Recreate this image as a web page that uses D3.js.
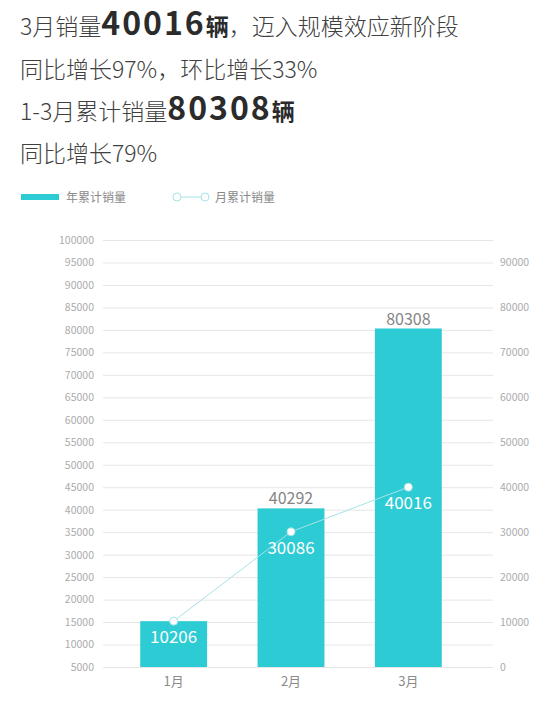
<!DOCTYPE html>
<html>
<head>
<meta charset="utf-8">
<script src="https://cdn.jsdelivr.net/npm/d3@7"></script>
<style>
  body { margin: 0; background: #fff; }
  text { font-family: "Noto Sans CJK SC", "Noto Sans", sans-serif; }
</style>
</head>
<body>
<div id="wrapper"></div>
<script>
// data
const months = ["1月", "2月", "3月"]
const yearCumulative = [15200, 40292, 80308]      // bar heights as drawn
const yearLabels = ["", "40292", "80308"]
const monthSales = [10206, 30086, 40016]
const leftTicks = d3.range(5000, 100001, 5000)
const rightTicks = d3.range(0, 90001, 10000)

const headerLines = [
  [["3月销量", false], ["40016", true], ["辆", true], ["，迈入规模效应新阶段", false]],
  [["同比增长97%，环比增长33%", false]],
  [["1-3月累计销量", false], ["80308", true], ["辆", true]],
  [["同比增长79%", false]],
]
const legendNames = ["年累计销量", "月累计销量"]

function drawChart() {
  const dimensions = {
    width: 554,
    height: 710,
    margins: { top: 240, right: 61, bottom: 43, left: 103 },
  }
  dimensions.boundedWidth =
    dimensions.width - dimensions.margins.left - dimensions.margins.right
  dimensions.boundedHeight =
    dimensions.height - dimensions.margins.top - dimensions.margins.bottom

  const barColor = "#2dcbd3"
  const lineColor = "#a6e3e6"

  const wrapper = d3
    .select("#wrapper")
    .append("svg")
    .attr("width", dimensions.width)
    .attr("height", dimensions.height)

  // header text
  const header = wrapper.append("g")
  const baselines = [35, 78, 120, 162]
  headerLines.forEach((parts, i) => {
    const t = header
      .append("text")
      .attr("x", 20)
      .attr("y", baselines[i])
    parts.forEach(([str, bold]) => {
      const isNum = /^\d+$/.test(str)
      t.append("tspan")
        .text(str)
        .attr("font-size", isNum ? 32 : 23)
        .attr("letter-spacing", isNum ? 2 : 0)
        .attr("font-weight", bold ? 700 : 300)
        .attr("fill", bold ? "#2b2b2b" : "#404040")
    })
  })

  // legend
  const legend = wrapper.append("g")
  legend
    .append("rect")
    .attr("x", 21)
    .attr("y", 194)
    .attr("width", 38)
    .attr("height", 6)
    .attr("fill", barColor)
  legend
    .append("text")
    .attr("x", 66)
    .attr("y", 202)
    .attr("font-size", 12)
    .attr("fill", "#8a8a8a")
    .text(legendNames[0])
  legend
    .append("line")
    .attr("x1", 177)
    .attr("x2", 205)
    .attr("y1", 197)
    .attr("y2", 197)
    .attr("stroke", lineColor)
  legend
    .selectAll("circle")
    .data([177, 205])
    .join("circle")
    .attr("cx", (d) => d)
    .attr("cy", 197)
    .attr("r", 4)
    .attr("fill", "#fff")
    .attr("stroke", lineColor)
  legend
    .append("text")
    .attr("x", 215)
    .attr("y", 202)
    .attr("font-size", 12)
    .attr("fill", "#8a8a8a")
    .text(legendNames[1])

  const bounds = wrapper
    .append("g")
    .attr(
      "transform",
      `translate(${dimensions.margins.left}, ${dimensions.margins.top})`
    )

  // scales
  const yLeft = d3
    .scaleLinear()
    .domain([5000, 100000])
    .range([dimensions.boundedHeight, 0])
  const yRight = d3
    .scaleLinear()
    .domain([0, 95000])
    .range([dimensions.boundedHeight, 0])
  const xScale = d3
    .scaleBand()
    .domain(months)
    .range([12, 364])
    .paddingInner(0.43)
    .paddingOuter(0.215)

  // gridlines + left axis
  const yAxisLeft = d3
    .axisLeft(yLeft)
    .tickValues(leftTicks)
    .tickFormat(d3.format("d"))
    .tickSize(-dimensions.boundedWidth)
    .tickPadding(9)
  const leftAxis = bounds.append("g").call(yAxisLeft)
  leftAxis.select(".domain").remove()
  leftAxis.selectAll(".tick line").attr("stroke", "#e6e6e6")
  leftAxis
    .selectAll(".tick text")
    .attr("fill", "#ababab")
    .attr("font-size", 10.5)

  // right axis
  const yAxisRight = d3
    .axisRight(yRight)
    .tickValues(rightTicks)
    .tickFormat(d3.format("d"))
    .tickSize(0)
    .tickPadding(7)
  const rightAxis = bounds
    .append("g")
    .attr("transform", `translate(${dimensions.boundedWidth}, 0)`)
    .call(yAxisRight)
  rightAxis.select(".domain").remove()
  rightAxis
    .selectAll(".tick text")
    .attr("fill", "#ababab")
    .attr("font-size", 10.5)

  // bars
  bounds
    .selectAll(".bar")
    .data(yearCumulative)
    .join("rect")
    .attr("class", "bar")
    .attr("x", (d, i) => xScale(months[i]))
    .attr("width", xScale.bandwidth())
    .attr("y", (d) => yLeft(d))
    .attr("height", (d) => dimensions.boundedHeight - yLeft(d))
    .attr("fill", barColor)

  bounds
    .selectAll(".bar-label")
    .data(yearLabels)
    .join("text")
    .attr("class", "bar-label")
    .attr("x", (d, i) => xScale(months[i]) + xScale.bandwidth() / 2)
    .attr("y", (d, i) => yLeft(yearCumulative[i]) - 4)
    .attr("text-anchor", "middle")
    .attr("font-size", 16)
    .attr("fill", "#858585")
    .text((d) => d)

  // x axis
  const xAxis = bounds
    .append("g")
    .attr("transform", `translate(0, ${dimensions.boundedHeight})`)
    .call(d3.axisBottom(xScale).tickSize(0).tickPadding(10))
  xAxis.select(".domain").remove()
  xAxis.selectAll(".tick text").attr("fill", "#8a8a8a").attr("font-size", 13)

  // line
  const cx = (d, i) => xScale(months[i]) + xScale.bandwidth() / 2
  const lineGenerator = d3
    .line()
    .x(cx)
    .y((d) => yRight(d))
  bounds
    .append("path")
    .attr("d", lineGenerator(monthSales))
    .attr("fill", "none")
    .attr("stroke", lineColor)
    .attr("stroke-width", 1)

  bounds
    .selectAll(".dot")
    .data(monthSales)
    .join("circle")
    .attr("class", "dot")
    .attr("cx", cx)
    .attr("cy", (d) => yRight(d))
    .attr("r", 4)
    .attr("fill", "#fff")
    .attr("stroke", lineColor)
    .attr("stroke-width", 1)

  bounds
    .selectAll(".line-label")
    .data(monthSales)
    .join("text")
    .attr("class", "line-label")
    .attr("x", cx)
    .attr("y", (d) => yRight(d) + 22)
    .attr("text-anchor", "middle")
    .attr("font-size", 17)
    .attr("fill", "#fff")
    .text((d) => d)
}

drawChart()
</script>
</body>
</html>
